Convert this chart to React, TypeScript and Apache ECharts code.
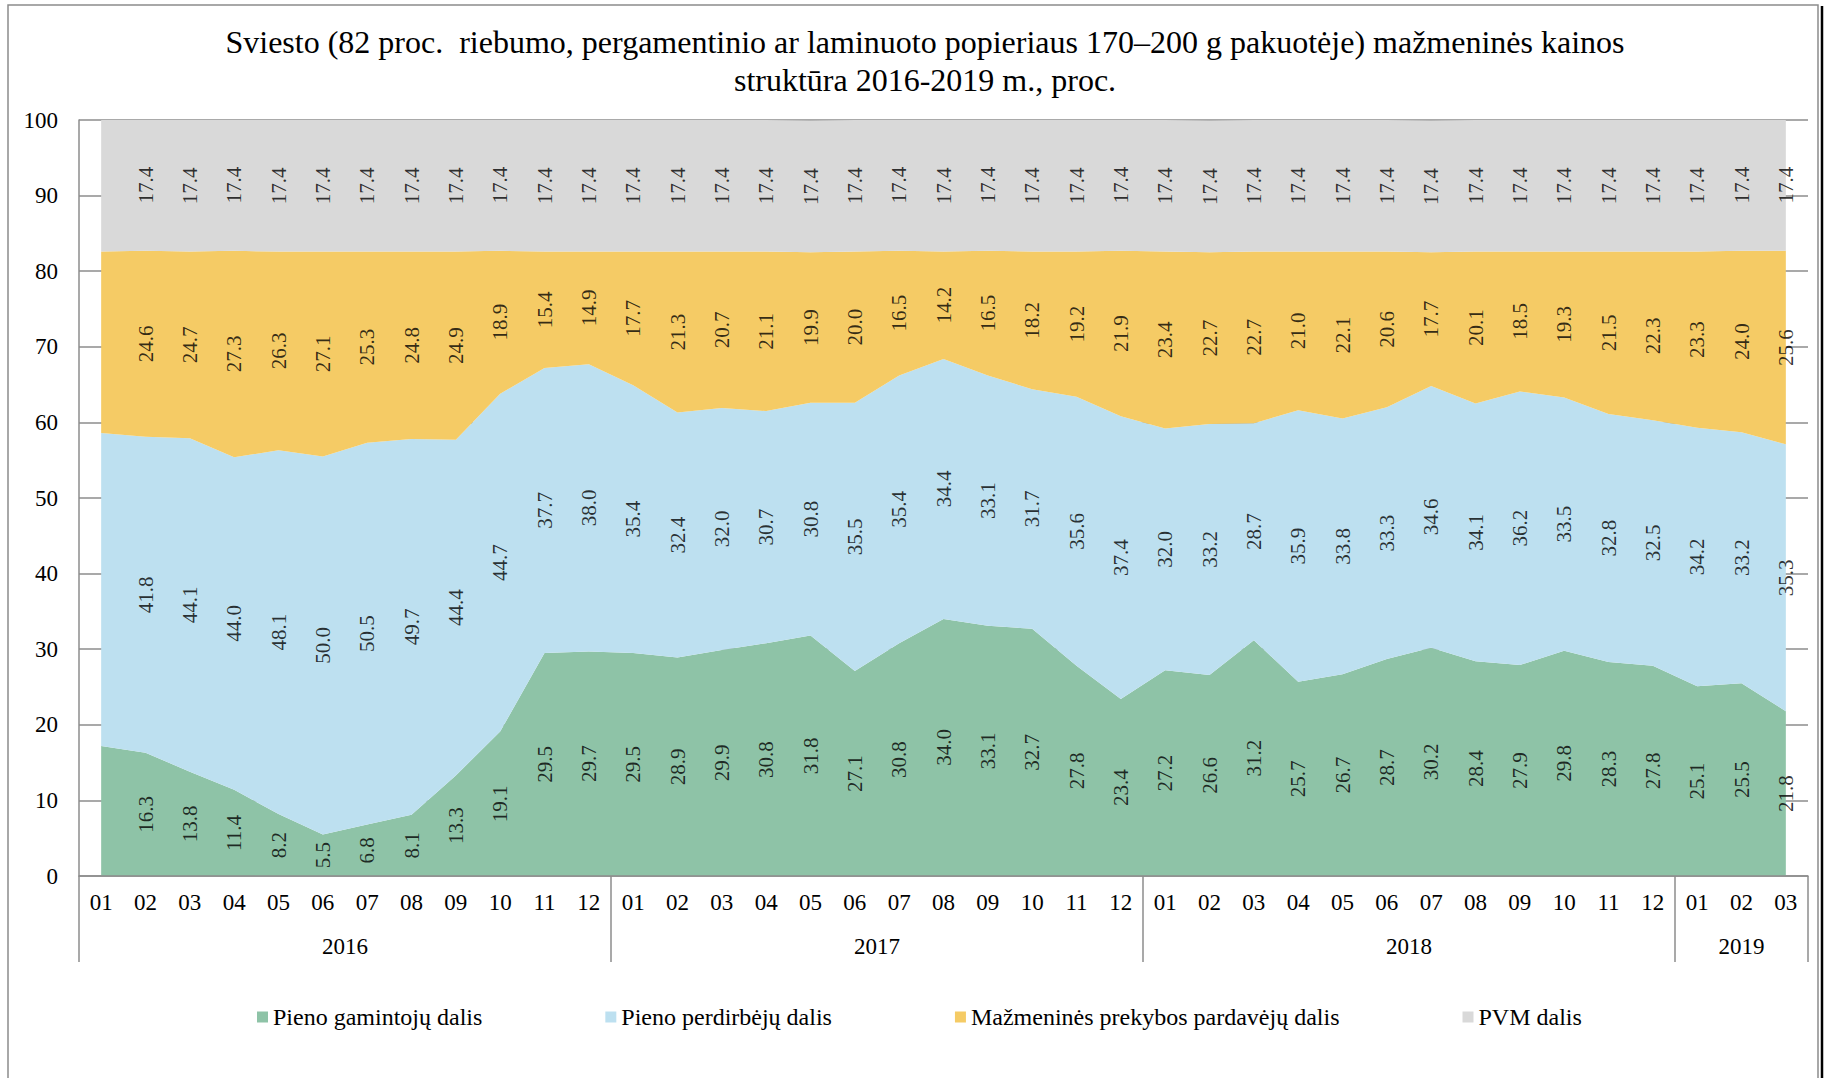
import React, { useEffect, useRef } from "react";
import * as echarts from "echarts";

const categories = [
  "01","02","03","04","05","06","07","08","09","10","11","12",
  "01","02","03","04","05","06","07","08","09","10","11","12",
  "01","02","03","04","05","06","07","08","09","10","11","12",
  "01","02","03",
];
const years = ["2016", "2017", "2018", "2019"];
const monthsPerYear = [12, 12, 12, 3];

const seriesNames = [
  "Pieno gamintojų dalis",
  "Pieno perdirbėjų dalis",
  "Mažmeninės prekybos pardavėjų dalis",
  "PVM dalis",
];
const seriesColors = ["#8EC3A7", "#BDE0F0", "#F5CB65", "#D9D9D9"];

const producers = [
  17.2, 16.3, 13.8, 11.4, 8.2, 5.5, 6.8, 8.1, 13.3, 19.1, 29.5, 29.7,
  29.5, 28.9, 29.9, 30.8, 31.8, 27.1, 30.8, 34.0, 33.1, 32.7, 27.8, 23.4,
  27.2, 26.6, 31.2, 25.7, 26.7, 28.7, 30.2, 28.4, 27.9, 29.8, 28.3, 27.8,
  25.1, 25.5, 21.8,
];
const processors = [
  41.4, 41.8, 44.1, 44.0, 48.1, 50.0, 50.5, 49.7, 44.4, 44.7, 37.7, 38.0,
  35.4, 32.4, 32.0, 30.7, 30.8, 35.5, 35.4, 34.4, 33.1, 31.7, 35.6, 37.4,
  32.0, 33.2, 28.7, 35.9, 33.8, 33.3, 34.6, 34.1, 36.2, 33.5, 32.8, 32.5,
  34.2, 33.2, 35.3,
];
const retailers = [
  24.0, 24.6, 24.7, 27.3, 26.3, 27.1, 25.3, 24.8, 24.9, 18.9, 15.4, 14.9,
  17.7, 21.3, 20.7, 21.1, 19.9, 20.0, 16.5, 14.2, 16.5, 18.2, 19.2, 21.9,
  23.4, 22.7, 22.7, 21.0, 22.1, 20.6, 17.7, 20.1, 18.5, 19.3, 21.5, 22.3,
  23.3, 24.0, 25.6,
];
const vat = [
  17.4, 17.4, 17.4, 17.4, 17.4, 17.4, 17.4, 17.4, 17.4, 17.4, 17.4, 17.4,
  17.4, 17.4, 17.4, 17.4, 17.4, 17.4, 17.4, 17.4, 17.4, 17.4, 17.4, 17.4,
  17.4, 17.4, 17.4, 17.4, 17.4, 17.4, 17.4, 17.4, 17.4, 17.4, 17.4, 17.4,
  17.4, 17.4, 17.4,
];
const yTicks = [0, 10, 20, 30, 40, 50, 60, 70, 80, 90, 100];

const FONT = "'Liberation Serif', 'Times New Roman', serif";

export default function App() {
  const ref = useRef<HTMLDivElement>(null);
  useEffect(() => {
    if (!ref.current) return;
    const chart = echarts.init(ref.current, undefined, { renderer: "svg" });
    const all = [producers, processors, retailers, vat];

    // year boundaries and centers, in month units
    const boundaries: number[] = [0];
    const centers: number[] = [];
    let acc = 0;
    monthsPerYear.forEach((m) => {
      centers.push(acc + m / 2);
      acc += m;
      boundaries.push(acc);
    });

    const areaSeries = all.map((arr, k) => ({
      name: seriesNames[k],
      type: "line",
      stack: "total",
      data: arr,
      symbol: "none",
      showSymbol: false,
      lineStyle: { width: 0 },
      areaStyle: { color: seriesColors[k], opacity: 1 },
      itemStyle: { color: seriesColors[k] },
      z: 2,
    }));

    const labelSeries = all.map((arr, k) => {
      const data: any[] = [];
      arr.forEach((v, i) => {
        if (i === 0) return;
        let base = 0;
        for (let j = 0; j < k; j++) base += all[j][i];
        data.push([i, base + v / 2, v]);
      });
      return {
        name: "lbl" + k,
        type: "scatter",
        data,
        symbolSize: 0,
        silent: true,
        z: 5,
        label: {
          show: true,
          position: "inside",
          rotate: 90,
          fontFamily: FONT,
          fontSize: 21,
          color: "#000",
          formatter: (p: any) => p.data[2].toFixed(1),
        },
      };
    });

    chart.setOption({
      animation: false,
      backgroundColor: "#fff",
      title: {
        text: "Sviesto (82 proc.  riebumo, pergamentinio ar laminuoto popieriaus 170–200 g pakuotėje) mažmeninės kainos\nstruktūra 2016-2019 m., proc.",
        left: 920,
        top: 18,
        textAlign: "center",
        textStyle: {
          fontFamily: FONT,
          fontSize: 32,
          fontWeight: "normal",
          color: "#000",
          lineHeight: 38,
        },
      },
      legend: {
        data: seriesNames,
        left: 252,
        top: 1000,
        icon: "rect",
        itemWidth: 11,
        itemHeight: 11,
        itemGap: 123,
        textStyle: { fontFamily: FONT, fontSize: 24, color: "#000" },
      },
      grid: { left: 79, right: 19, top: 120, bottom: 202, containLabel: false },
      xAxis: [
        {
          type: "category",
          data: categories,
          boundaryGap: true,
          axisLine: { show: true, lineStyle: { color: "#8C8C8C", width: 1.5 } },
          axisTick: { show: false },
          axisLabel: {
            interval: 0,
            margin: 15,
            fontFamily: FONT,
            fontSize: 23,
            color: "#000",
          },
          z: 10,
        },
        {
          type: "value",
          min: 0,
          max: categories.length,
          position: "bottom",
          axisLine: { show: false },
          splitLine: { show: false },
          axisTick: {
            show: true,
            customValues: boundaries,
            length: 86,
            lineStyle: { color: "#8C8C8C", width: 1.5 },
          },
          axisLabel: {
            customValues: centers,
            margin: 59,
            fontFamily: FONT,
            fontSize: 23,
            color: "#000",
            formatter: (v: number) => {
              const idx = centers.findIndex((c) => Math.abs(c - v) < 1e-6);
              return idx >= 0 ? years[idx] : "";
            },
          },
        },
      ],
      yAxis: {
        type: "value",
        min: yTicks[0],
        max: yTicks[yTicks.length - 1],
        interval: 10,
        axisLine: { show: true, lineStyle: { color: "#8C8C8C", width: 1.5 } },
        axisTick: { show: false },
        splitLine: { show: true, lineStyle: { color: "#8C8C8C", width: 1.5 } },
        axisLabel: {
          margin: 21,
          fontFamily: FONT,
          fontSize: 23,
          color: "#000",
        },
      },
      graphic: [
        {
          type: "rect",
          shape: { x: 8, y: 5, width: 1810, height: 1100 },
          style: { fill: "none", stroke: "#8C8C8C", lineWidth: 1.5 },
          silent: true,
        },
        {
          type: "line",
          shape: { x1: 1822, y1: 6, x2: 1822, y2: 1078 },
          style: { stroke: "#000", lineWidth: 2.5 },
          silent: true,
        },
      ],
      series: [...areaSeries, ...labelSeries],
    });
    return () => chart.dispose();
  }, []);
  return (
    <div
      ref={ref}
      style={{ position: "fixed", left: 0, top: 0, width: 1827, height: 1078 }}
    />
  );
}
